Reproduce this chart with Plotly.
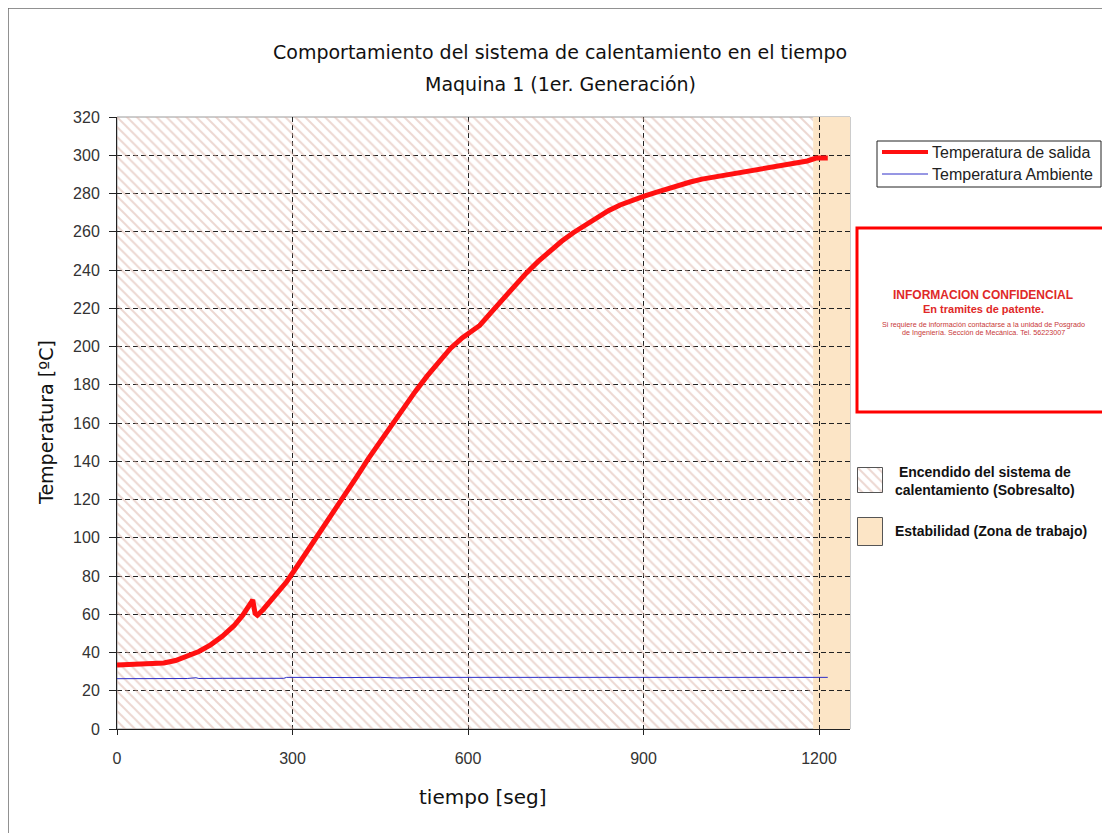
import plotly.graph_objects as go

# ---------------- data ----------------
t_salida = [0, 20, 40, 60, 80, 100, 120, 140, 160, 180, 200, 215, 230, 232, 236, 240, 250,
            270, 290, 310, 330, 350, 370, 390, 410, 430, 450, 470, 490, 510, 530, 550, 570,
            590, 600, 610, 620, 640, 660, 680, 700, 720, 740, 760, 780, 800, 820, 840, 860,
            880, 900, 920, 940, 960, 980, 1000, 1020, 1040, 1060, 1080, 1100, 1120, 1140,
            1160, 1180, 1195, 1215]
temp_salida = [33.5, 33.6, 33.8, 34.0, 34.5, 35.8, 38.0, 40.5, 44.0, 48.5, 54.0, 59.5, 66.5,
               67.5, 60.5, 59.5, 62.5, 69.5, 77.0, 86.0, 95.0, 104.0, 113.0, 122.5, 132.0,
               141.5, 150.5, 159.5, 168.0, 176.5, 184.5, 192.0, 199.0, 204.5, 206.5, 208.5,
               211.0, 218.0, 225.0, 232.0, 238.5, 244.5, 250.0, 255.0, 259.5, 263.5, 267.5,
               271.0, 274.0, 276.5, 278.5, 280.5, 282.5, 284.5, 286.0, 287.5, 288.5, 289.5,
               290.5, 291.5, 292.5, 293.5, 294.5, 295.5, 297.0, 298.5, 298.5]

t_amb = [0, 60, 120, 135, 140, 180, 240, 285, 290, 330, 360, 400, 450, 480, 520, 560, 600,
         660, 720, 780, 840, 880, 900, 960, 1020, 1080, 1140, 1215]
temp_amb = [26.3, 26.3, 26.4, 26.8, 26.4, 26.5, 26.5, 26.5, 27.0, 26.9, 27.0, 26.9, 27.0,
            26.7, 27.0, 26.9, 27.0, 27.0, 27.0, 26.9, 27.0, 26.8, 27.0, 27.0, 27.0, 27.0,
            27.0, 27.0]

series_names = ["Temperatura de salida", "Temperatura Ambiente"]
series_colors = ["#FF1010", "#2E2EC8"]
series_widths = [5, 1]

region_names = ["<b>Encendido del sistema de<br>calentamiento (Sobresalto)</b>",
                "<b>Estabilidad (Zona de trabajo)</b>"]
region_start = [0, 1190]
region_end = [1190, 1253]

x_ticks = [0, 300, 600, 900, 1200]
y_ticks = list(range(0, 321, 20))

title_lines = ["Comportamiento del sistema de calentamiento en el tiempo",
               "Maquina 1 (1er. Generación)"]
x_title = "tiempo [seg]"
y_title = "Temperatura [ºC]"

conf_lines = ["<b>INFORMACION CONFIDENCIAL</b>", "<b>En tramites de patente.</b>",
              "Si requiere de información contactarse a la unidad de Posgrado",
              "de Ingeniería. Sección de Mecánica. Tel. 56223007"]

# ---------------- styling / layout helpers ----------------
FONT = "Liberation Sans, Arial, sans-serif"
FONT_W = "DejaVu Sans, Verdana, sans-serif"
HATCH_COLOR = "#d9b0a4"
STABLE_COLOR = "#FCE5C6"

# page offset of 8px (html body margin); target pixel coords are screenshot coords
FIG_W, FIG_H = 1102, 825
L, T, B = 109, 109, 104
PLOT_W = FIG_W - L          # paper width in px (right margin 0)
PLOT_H = FIG_H - T - B


def px(x):
    return (x - 117) / PLOT_W


def py(y):
    return (729 - y) / PLOT_H


fig = go.Figure()

hatch_pattern = dict(shape="\\", fgcolor=HATCH_COLOR, bgcolor="rgba(0,0,0,0)",
                     size=7, solidity=0.28)

# hatched region (transparent background so gridlines show through)
fig.add_trace(go.Bar(
    x=[(region_start[0] + region_end[0]) / 2], y=[320], base=[0],
    width=[region_end[0] - region_start[0]], showlegend=False,
    marker=dict(color="rgba(0,0,0,0)", line=dict(width=0), pattern=hatch_pattern),
    hoverinfo="skip", xaxis="x", yaxis="y"))

# stability region as shape beneath gridlines
fig.add_shape(type="rect", xref="x", yref="y",
              x0=region_start[1], x1=region_end[1], y0=0, y1=320,
              fillcolor=STABLE_COLOR, line=dict(width=0), layer="below")

fig.add_trace(go.Scatter(x=t_salida, y=temp_salida, mode="lines", name=series_names[0],
                         line=dict(color=series_colors[0], width=series_widths[0]),
                         showlegend=False))
fig.add_trace(go.Scatter(x=t_amb, y=temp_amb, mode="lines", name=series_names[1],
                         line=dict(color=series_colors[1], width=series_widths[1]),
                         showlegend=False))

# legend keys for the two regions (small subplots)
fig.add_trace(go.Bar(x=[0.5], y=[1], width=[1], showlegend=False, hoverinfo="skip",
                     marker=dict(color="white", line=dict(color="#555", width=1),
                                 pattern=dict(shape="\\", fgcolor=HATCH_COLOR,
                                              bgcolor="white", size=7, solidity=0.28)),
                     xaxis="x2", yaxis="y2"))
fig.add_trace(go.Bar(x=[0.5], y=[1], width=[1], showlegend=False, hoverinfo="skip",
                     marker=dict(color=STABLE_COLOR, line=dict(color="#555", width=1)),
                     xaxis="x3", yaxis="y3"))

# plot area frame (gray)
fig.add_shape(type="rect", xref="paper", yref="paper", x0=0, x1=px(850), y0=0, y1=1,
              line=dict(color="#9a9a9a", width=1), layer="below")
# outer chart border
fig.add_shape(type="rect", xref="paper", yref="paper",
              x0=px(8), x1=px(1300), y0=py(1000), y1=py(8),
              line=dict(color="#6e6e6e", width=1.5), layer="below")

# series legend (custom box)
fig.add_shape(type="rect", xref="paper", yref="paper",
              x0=px(877), x1=px(1101), y0=py(187), y1=py(141),
              line=dict(color="#222", width=1), fillcolor="white", layer="above")
for i, yy in enumerate([152, 174]):
    fig.add_shape(type="line", xref="paper", yref="paper",
                  x0=px(882), x1=px(928), y0=py(yy), y1=py(yy),
                  line=dict(color=series_colors[i], width=4 if i == 0 else 1),
                  layer="above")
    fig.add_annotation(text=series_names[i], xref="paper", yref="paper",
                       x=px(930), y=py(yy), showarrow=False, xanchor="left",
                       yanchor="middle", font=dict(family=FONT, size=16, color="#222"))

# confidential box
fig.add_shape(type="rect", xref="paper", yref="paper",
              x0=px(857), x1=px(1107), y0=py(412), y1=py(228),
              line=dict(color="#FF0000", width=3), fillcolor="white", layer="above")

cx = px(983)
conf_y = [295, 309, 324, 332]
conf_size = [12, 11, 7.2, 7.2]
conf_color = ["#E02828", "#E02828", "#C83838", "#C83838"]
for txt, yy, fs, col in zip(conf_lines, conf_y, conf_size, conf_color):
    fig.add_annotation(text=txt, xref="paper", yref="paper", x=cx, y=py(yy),
                       showarrow=False, xanchor="center", yanchor="middle",
                       font=dict(family=FONT, size=fs, color=col))

# region legend texts
fig.add_annotation(text=region_names[0], xref="paper", yref="paper", x=px(985), y=py(481),
                   showarrow=False, xanchor="center", yanchor="middle", align="center",
                   font=dict(family=FONT, size=14, color="#111"))
fig.add_annotation(text=region_names[1], xref="paper", yref="paper", x=px(893), y=py(531),
                   showarrow=False, xanchor="left", yanchor="middle",
                   font=dict(family=FONT, size=14, color="#111"))

# title
for txt, yy in zip(title_lines, [52, 84]):
    fig.add_annotation(text=txt, xref="paper", yref="paper", x=px(560), y=py(yy),
                       showarrow=False, xanchor="center", yanchor="middle",
                       font=dict(family=FONT_W, size=19, color="#111"))
# axis titles
fig.add_annotation(text=x_title, xref="paper", yref="paper", x=px(483), y=py(797),
                   showarrow=False, xanchor="center", yanchor="middle",
                   font=dict(family=FONT_W, size=20, color="#111"))
fig.add_annotation(text=y_title, xref="paper", yref="paper", x=px(46), y=py(423),
                   showarrow=False, xanchor="center", yanchor="middle",
                   textangle=-90, font=dict(family=FONT_W, size=19, color="#111"))

axis_common = dict(ticks="outside", tickcolor="#222", showline=True, linecolor="#222",
                   linewidth=1, showgrid=True, gridcolor="#222", griddash="5px,3px",
                   gridwidth=1, zeroline=False,
                   tickfont=dict(family=FONT, size=16, color="#333"))
key_axis = dict(visible=False, range=[-0.06, 1.06], fixedrange=True)

fig.update_layout(
    width=FIG_W, height=FIG_H, autosize=False,
    margin=dict(l=L, r=0, t=T, b=B),
    paper_bgcolor="white", plot_bgcolor="white",
    font=dict(family=FONT, size=14, color="#333"),
    showlegend=False,
    xaxis=dict(domain=[0, px(850)], range=[0, 1253], tickvals=x_ticks, ticklen=5,
               ticklabelstandoff=10, anchor="y", **axis_common),
    yaxis=dict(domain=[0, 1], range=[0, 320], tickvals=y_ticks, ticklen=7,
               ticklabelstandoff=6, anchor="x", **axis_common),
    xaxis2=dict(domain=[px(856), px(884)], anchor="y2", **key_axis),
    yaxis2=dict(domain=[py(494), py(466)], anchor="x2", **key_axis),
    xaxis3=dict(domain=[px(856), px(884)], anchor="y3", **key_axis),
    yaxis3=dict(domain=[py(548), py(516)], anchor="x3", **key_axis),
    bargap=0,
)

fig.write_html("out.html")
